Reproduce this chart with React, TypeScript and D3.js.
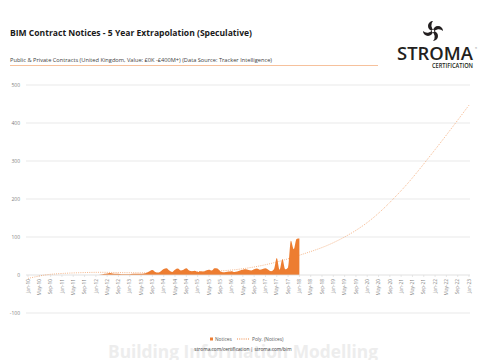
import React from "react";
import * as d3 from "d3";

// Month index 0 = Jan-10
const xLabels: string[] = (() => {
  const m = ["Jan", "May", "Sep"];
  const out: string[] = [];
  for (let y = 10; y <= 23; y++) for (const mm of m) { if (y === 23 && mm !== "Jan") break; out.push(`${mm}-${y}`); }
  return out;
})();

const yTicks = [-100, 0, 100, 200, 300, 400, 500];

// Monthly notices, Jan-10 .. Jan-18
const notices: number[] = [
  0, 0, 0, 0, 0, 0, 0, 0, 0, 0, 0, 0,
  0, 0, 0, 0, 0, 0, 0, 0, 0, 0, 0, 0,
  0, 0, 1, 3, 4, 5, 4, 3, 3, 2, 2, 2,
  2, 3, 3, 3, 3, 4, 6, 10, 13, 8, 6, 10,
  16, 18, 12, 8, 14, 17, 12, 14, 18, 12, 10, 11,
  8, 10, 9, 12, 14, 12, 18, 17, 10, 7, 8, 9,
  10, 8, 9, 12, 14, 15, 13, 12, 15, 17, 14, 16,
  18, 14, 10, 15, 45, 14, 42, 15, 20, 90, 68, 95,
  96,
];

// Polynomial trend read at selected months
const trendMonths: number[] = [0, 6, 12, 24, 36, 48, 60, 72, 84, 96, 108, 120, 132, 144, 156];
const trendValues: number[] = [-9, 0, 4, 7, 6, 6, 9, 13, 27, 52, 85, 138, 222, 330, 447];

const W = 485, H = 360;
const orange = "#ED7D31";

function Swirl({ cx, cy, r }: { cx: number; cy: number; r: number }) {
  const blade = `M0,0 A${r * 0.5},${r * 0.5} 0 0 1 0,${-r} A${r * 0.62},${r * 0.62} 0 0 0 ${r * 0.12},${-r * 0.05} Z`;
  return (
    <g transform={`translate(${cx},${cy})`} fill="#231f20">
      {[0, 90, 180, 270].map((a) => (
        <path key={a} d={blade} transform={`rotate(${a})`} />
      ))}
      <circle r={r * 0.12} fill="#fff" />
    </g>
  );
}

export default function App() {
  const x = d3.scaleLinear().domain([0, 156]).range([28, 469]);
  const y = d3.scaleLinear().domain([-100, 500]).range([313, 85]);

  const area = d3.area<number>()
    .x((_, i) => x(i))
    .y0(y(0))
    .y1((d) => y(d))
    .curve(d3.curveMonotoneX);

  const trend = d3.line<number>()
    .x((_, i) => x(trendMonths[i]))
    .y((d) => y(d))
    .curve(d3.curveCatmullRom);

  const font = "'Open Sans', 'Liberation Sans', sans-serif";

  return (
    <svg width={W} height={H} style={{ position: "absolute", left: 0, top: 0, background: "#fff" }} fontFamily={font}>
      <rect width={W} height={H} fill="#fff" />
      {/* watermark */}
      <text x={243} y={358} textAnchor="middle" fontSize={18} fontWeight="bold" fill="#ededed" textLength={270} lengthAdjust="spacingAndGlyphs">Building Information Modelling</text>

      {/* title */}
      <text x={10} y={36} fontSize={9.5} fontWeight="bold" fill="#1a1a1a" textLength={242} lengthAdjust="spacingAndGlyphs">BIM Contract Notices - 5 Year Extrapolation (Speculative)</text>
      <text x={10} y={61.5} fontSize={5.4} fill="#404040" textLength={262} lengthAdjust="spacingAndGlyphs">Public &amp; Private Contracts (United Kingdom, Value: £0K -£400M+) (Data Source: Tracker Intelligence)</text>
      <line x1={10} x2={378} y1={65.5} y2={65.5} stroke="#F4B183" strokeWidth={0.8} />

      {/* logo */}
      <Swirl cx={433} cy={31} r={10} />
      <text x={473} y={60} textAnchor="end" fontSize={18.5} fontWeight="600" fill="#231f20" textLength={76} lengthAdjust="spacingAndGlyphs">STROMA</text>
      <text x={475} y={49} fontSize={2.5} fill="#231f20">®</text>
      <text x={473} y={68} textAnchor="end" fontSize={6.3} fontWeight="600" fill="#231f20" textLength={41} lengthAdjust="spacingAndGlyphs">CERTIFICATION</text>

      {/* gridlines */}
      {yTicks.map((t) => (
        <g key={t}>
          {t !== 0 && <line x1={26} x2={470} y1={y(t)} y2={y(t)} stroke="#e3e3e3" strokeWidth={0.8} />}
          <text x={20} y={y(t) + 1.8} textAnchor="end" fontSize={5} fill="#7f7f7f">{t}</text>
        </g>
      ))}

      {/* area */}
      <path d={area(notices) || ""} fill={orange} />

      {/* axis */}
      <line x1={26} x2={470} y1={y(0)} y2={y(0)} stroke="#d9d9d9" strokeWidth={0.8} />
      {xLabels.map((l, i) => (
        <g key={l} transform={`translate(${x(i * 4)},0)`}>
          <line y1={y(0)} y2={y(0) + 2} stroke="#d9d9d9" strokeWidth={0.6} />
          <text transform={`translate(1.7,${y(0) + 4}) rotate(-90)`} textAnchor="end" fontSize={4.8} fill="#7f7f7f">{l}</text>
        </g>
      ))}

      {/* trend */}
      <path d={trend(trendValues) || ""} fill="none" stroke={orange} strokeWidth={0.8} strokeDasharray="1,1.2" strokeOpacity={0.7} />

      {/* legend */}
      <rect x={210} y={337.5} width={3} height={3} fill={orange} />
      <text x={215} y={340.7} fontSize={4.8} fill="#595959">Notices</text>
      <line x1={237} x2={249} y1={339} y2={339} stroke={orange} strokeWidth={0.9} strokeDasharray="1,1.2" />
      <text x={252} y={340.7} fontSize={4.8} fill="#595959">Poly. (Notices)</text>
      <text x={243} y={350.5} textAnchor="middle" fontSize={4.8} fill="#404040">stroma.com/certification | stroma.com/bim</text>
    </svg>
  );
}
